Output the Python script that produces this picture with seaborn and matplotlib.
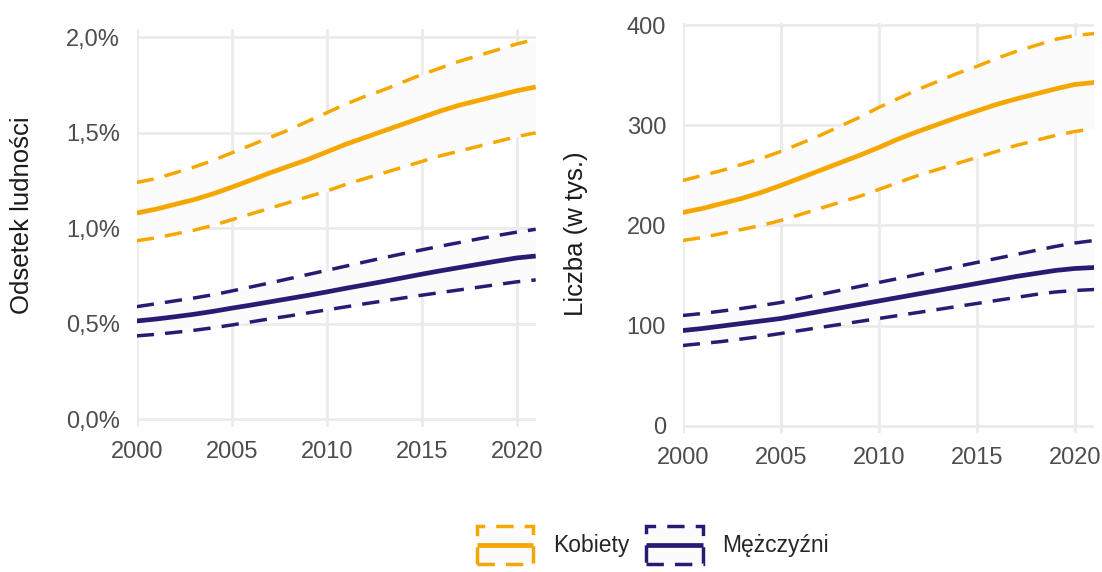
import numpy as np
import pandas as pd
import matplotlib
matplotlib.use("Agg")
import matplotlib.pyplot as plt
from matplotlib.lines import Line2D
from matplotlib.patches import Rectangle
from matplotlib.ticker import FuncFormatter
import seaborn as sns

# --- data -------------------------------------------------------------
years = list(range(2000, 2022))

# share of population (%)
women_pct = [1.08, 1.10, 1.125, 1.15, 1.18, 1.215, 1.252, 1.29, 1.325, 1.36, 1.40,
             1.44, 1.475, 1.51, 1.545, 1.58, 1.615, 1.645, 1.67, 1.695, 1.72, 1.74]
women_pct_hi = [1.24, 1.26, 1.29, 1.32, 1.355, 1.395, 1.435, 1.475, 1.515, 1.56, 1.605,
                1.65, 1.69, 1.725, 1.765, 1.805, 1.84, 1.875, 1.905, 1.935, 1.965, 1.99]
women_pct_lo = [0.935, 0.95, 0.97, 0.99, 1.015, 1.045, 1.075, 1.105, 1.135, 1.165, 1.195,
                1.23, 1.26, 1.29, 1.32, 1.35, 1.38, 1.405, 1.43, 1.455, 1.48, 1.50]
men_pct = [0.515, 0.525, 0.537, 0.55, 0.565, 0.582, 0.598, 0.615, 0.632, 0.649, 0.667,
           0.686, 0.704, 0.722, 0.741, 0.76, 0.778, 0.795, 0.812, 0.829, 0.845, 0.855]
men_pct_hi = [0.59, 0.605, 0.62, 0.635, 0.652, 0.672, 0.693, 0.714, 0.736, 0.758, 0.78,
              0.802, 0.824, 0.846, 0.867, 0.887, 0.907, 0.926, 0.945, 0.963, 0.98, 0.995]
men_pct_lo = [0.437, 0.445, 0.455, 0.466, 0.479, 0.494, 0.51, 0.526, 0.541, 0.557, 0.573,
              0.589, 0.605, 0.62, 0.635, 0.65, 0.664, 0.678, 0.692, 0.706, 0.72, 0.73]

# counts (thousands)
women_cnt = [213, 217, 222, 227, 233, 240, 247.5, 255, 262.5, 270, 278,
             286.5, 294, 301, 308, 314.5, 321, 326.5, 331.5, 336.5, 341, 343]
women_cnt_hi = [245, 250, 255, 261, 267, 274, 282, 290, 299, 308, 318,
                327, 336, 344, 352, 359, 367, 374, 380, 386, 390, 392]
women_cnt_lo = [185, 188, 192, 196, 200, 205, 211, 217, 223, 229, 236,
                243, 250, 256, 262, 268, 274, 280, 285, 290, 294, 297]
men_cnt = [95, 97, 99.5, 102, 104.5, 107, 110.5, 114, 117.5, 121, 124.5,
           128, 131.5, 135, 138.5, 142, 145.5, 149, 152, 155, 157, 158]
men_cnt_hi = [110, 112, 114.5, 117, 120, 123, 127, 131, 135, 139, 143,
              147, 151, 155, 159, 163, 167, 171, 175, 179, 182.5, 185]
men_cnt_lo = [80, 82, 84, 86.5, 89, 92, 95, 98, 101, 104, 107,
              110, 113, 116, 119, 122, 125, 128, 131, 133.5, 135, 136]

groups = ["Kobiety", "Mężczyźni"]
colors = {"Kobiety": "#F5A700", "Mężczyźni": "#2B1A74"}

pct_ticks = [0.0, 0.5, 1.0, 1.5, 2.0]
cnt_ticks = [0, 100, 200, 300, 400]
year_ticks = [2000, 2005, 2010, 2015, 2020]


def frame(w, w_lo, w_hi, m, m_lo, m_hi):
    parts = []
    for g, v, lo, hi in [("Kobiety", w, w_lo, w_hi), ("Mężczyźni", m, m_lo, m_hi)]:
        parts.append(pd.DataFrame({"rok": years, "płeć": g, "wartość": v,
                                   "dolna": lo, "górna": hi}))
    return pd.concat(parts, ignore_index=True)


df_pct = frame(women_pct, women_pct_lo, women_pct_hi, men_pct, men_pct_lo, men_pct_hi)
df_cnt = frame(women_cnt, women_cnt_lo, women_cnt_hi, men_cnt, men_cnt_lo, men_cnt_hi)

# --- style ------------------------------------------------------------
sns.set_theme(style="whitegrid")
plt.rcParams["font.family"] = ["Liberation Sans", "DejaVu Sans"]

W, H = 1102, 572
fig = plt.figure(figsize=(W / 100, H / 100), dpi=100)


def px_axes(x0, x1, ytop, ybot):
    return fig.add_axes([x0 / W, 1 - ybot / H, (x1 - x0) / W, (ybot - ytop) / H])


ax1 = px_axes(136.7, 535.7, 29, 427)
ax2 = px_axes(682.7, 1094.3, 23.3, 433)

DASH = (5, 3.2)
LW_DASH = 2.5
LW_MAIN = 3.4
BAND = "#fbfbfb"


def draw(ax, df):
    for g in groups:
        d = df[df["płeć"] == g]
        ax.fill_between(d["rok"], d["dolna"], d["górna"], color=BAND,
                        linewidth=0, zorder=1)
    sns.lineplot(data=df, x="rok", y="górna", hue="płeć", palette=colors,
                 linewidth=LW_DASH, dashes=DASH, legend=False, ax=ax, zorder=3)
    sns.lineplot(data=df, x="rok", y="dolna", hue="płeć", palette=colors,
                 linewidth=LW_DASH, dashes=DASH, legend=False, ax=ax, zorder=3)
    sns.lineplot(data=df, x="rok", y="wartość", hue="płeć", palette=colors,
                 linewidth=LW_MAIN, legend=False, ax=ax, zorder=4)
    for ln in ax.get_lines():
        ln.set_solid_capstyle("butt")
        ln.set_dash_capstyle("butt")
        ln.set_solid_joinstyle("round")
    ax.set_xlim(2000, 2021)
    ax.set_xticks(year_ticks)
    ax.set_xlabel("")
    ax.set_ylabel("")
    ax.set_facecolor("white")
    for s in ax.spines.values():
        s.set_visible(False)
    ax.grid(True, color="#ebebeb", linewidth=2.0)
    ax.set_axisbelow(True)
    ax.tick_params(axis="both", length=0, labelsize=17, labelcolor="#4d4d4d")
    ax.tick_params(axis="y", pad=12)
    ax.tick_params(axis="x", pad=10)


draw(ax1, df_pct)
ax1.set_ylim(-0.040, 2.0435)
ax1.set_yticks(pct_ticks)
ax1.yaxis.set_major_formatter(FuncFormatter(lambda v, p: f"{v:.1f}%".replace(".", ",")))

draw(ax2, df_cnt)
ax2.set_ylim(-7.5, 402.2)
ax2.set_yticks(cnt_ticks)
ax2.yaxis.set_major_formatter(FuncFormatter(lambda v, p: f"{v:.0f}"))

fig.text(22 / W, 1 - 215 / H, "Odsetek ludności", rotation=90, ha="center",
         va="center", fontsize=18.5, color="#1a1a1a")
fig.text(576 / W, 1 - 234 / H, "Liczba (w tys.)", rotation=90, ha="center",
         va="center", fontsize=18.5, color="#1a1a1a")


# legend key: dashed band outline with the central line across it
class BandKey:
    def legend_artist(self, legend, orig_handle, fontsize, handlebox):
        color = orig_handle
        x0, y0 = handlebox.xdescent, handlebox.ydescent
        w, h = handlebox.width, handlebox.height
        box = Rectangle((-x0, -y0), w, h, facecolor=BAND, edgecolor=color,
                        linestyle=(0, DASH), linewidth=LW_DASH,
                        transform=handlebox.get_transform())
        line = Line2D([-x0, -x0 + w], [-y0 + h / 2, -y0 + h / 2], color=color,
                      linewidth=LW_MAIN, solid_capstyle="butt",
                      transform=handlebox.get_transform())
        handlebox.add_artist(box)
        handlebox.add_artist(line)
        return box


class KeyColor(str):
    pass


handles = [KeyColor(colors[g]) for g in groups]
fig.legend(handles, groups, handler_map={KeyColor: BandKey()},
           loc="center", bbox_to_anchor=(653 / W, 1 - 545 / H), ncol=2,
           frameon=False, fontsize=16.5, handlelength=2.45, handleheight=2.2,
           handletextpad=0.85, columnspacing=0.75, borderaxespad=0, borderpad=0)

fig.savefig("out.png", dpi=100, facecolor="white")
